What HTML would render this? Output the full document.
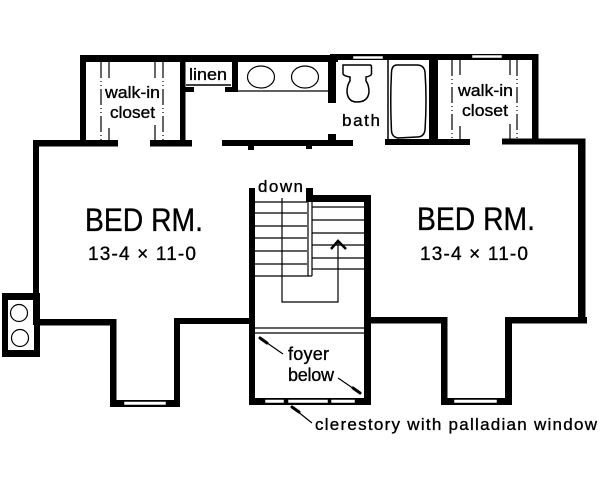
<!DOCTYPE html>
<html>
<head>
<meta charset="utf-8">
<style>
html,body{margin:0;padding:0;background:#fff;}
svg{display:block;}
text{font-family:"Liberation Sans",sans-serif;fill:#000;stroke:#000;stroke-width:.35px;}
</style>
</head>
<body>
<svg width="600" height="487" viewBox="0 0 600 487" xmlns="http://www.w3.org/2000/svg">
<rect width="600" height="487" fill="#fff"/>
<g fill="#000">
<rect x="80" y="55" width="258" height="7"/>
<rect x="330" y="54" width="208" height="6"/>
<rect x="80" y="55" width="6" height="88"/>
<rect x="532" y="54" width="6.500" height="88"/>
<rect x="33" y="140" width="85" height="6.500"/>
<rect x="150" y="140" width="42" height="6.500"/>
<rect x="222" y="140" width="131" height="6"/>
<rect x="385" y="139" width="85" height="6"/>
<rect x="502" y="138.500" width="83.500" height="6"/>
<rect x="180" y="60" width="5.500" height="82"/>
<rect x="232" y="60" width="6" height="32"/>
<rect x="185" y="87" width="9" height="5"/>
<rect x="225" y="87" width="9" height="5"/>
<rect x="328" y="58" width="8" height="45"/>
<rect x="429" y="58" width="9" height="82"/>
<rect x="248" y="145" width="6" height="5"/>
<rect x="328" y="134" width="8" height="7"/>
<rect x="306" y="144" width="6" height="5"/>
<rect x="33" y="140" width="6" height="185"/>
<path fill-rule="evenodd" d="M2 293H40V357H2Z M8 300V350H34V300Z"/>
<rect x="39" y="319" width="77" height="6.500"/>
<rect x="110" y="319" width="6.500" height="88"/>
<rect x="110" y="400" width="70" height="7"/>
<rect x="174" y="318" width="6" height="89"/>
<rect x="174" y="318" width="76" height="6"/>
<rect x="249" y="188" width="6" height="217"/>
<rect x="364" y="195" width="7" height="210"/>
<rect x="306" y="188" width="7" height="14"/>
<rect x="307" y="195" width="64" height="7"/>
<rect x="249" y="398" width="122" height="7"/>
<rect x="371" y="317" width="76" height="6.500"/>
<rect x="441" y="317" width="6.500" height="88"/>
<rect x="441" y="398" width="71" height="7"/>
<rect x="505" y="317" width="7" height="88"/>
<rect x="505" y="317" width="82" height="6.500"/>
<rect x="578" y="138.500" width="7.500" height="184.500"/>
</g>
<g fill="#fff" stroke="#000" stroke-width=".5">
<rect x="353" y="56" width="30" height="3"/>
<rect x="472" y="55" width="30" height="3"/>
<rect x="124" y="401.500" width="42" height="3.500"/>
<rect x="265" y="399.500" width="19" height="3.500"/>
<rect x="288" y="399.500" width="40" height="3.500"/>
<rect x="331" y="399.500" width="24" height="3.500"/>
<rect x="454" y="399.500" width="43" height="3.500"/>
</g>
<g fill="none" stroke="#000" stroke-width="1.200">
<circle cx="19" cy="313" r="8.500"/>
<circle cx="20" cy="338" r="8.500"/>
<path d="M186 85H231" stroke-width="1.500"/>
<path d="M238 91H328"/>
<ellipse cx="261" cy="77" rx="13.500" ry="11"/>
<ellipse cx="305" cy="77" rx="13.500" ry="11"/>
<path d="M343 65H370Q371.500 65 371.500 67V74Q371 76 366 77V81Q369 85 369 92Q368 102 357 102Q348 102 347 92Q347 85 350 81V77Q344 76 343 74Z" stroke-width="1.500"/>
<path d="M388 60V139" stroke-width="1.500"/>
<path d="M397 65H417Q424 65 425 72Q427 100 425 130Q424 137 417 137L398 138Q392 137 391.500 131Q390 100 391.500 72Q392 65 397 65Z" stroke-width="1.500"/>
<path d="M109 62V78M109 128V140M155 62V78M155 125V140"/>
<path d="M101 62V140M163 62V140" stroke-dasharray="16 3 1 3 1 3"/>
<path d="M460 60V75M460 126V139M510 60V75M510 124V139"/>
<path d="M452 60V139M517 60V139" stroke-dasharray="16 3 1 3 1 3"/>
<path d="M255 202H307M255 213H307M255 226H307M255 238H307M255 251H307M255 264H307M255 276H312"/>
<path d="M312 207H365M312 220H365M312 233H365M312 245H365M312 258H365M312 269H365"/>
<path d="M308 200V276M312 202V276"/>
<path d="M282 198V302H338V240"/>
<path d="M331 249L338 241L346 249" stroke-width="2.500"/>
<path d="M255 328H364M255 333H364"/>
<path d="M260 338L283 354M338 378L360 393M292 407L312 423"/>
</g>
<g stroke="#000" stroke-width="3" stroke-linecap="round">
<path d="M260 338L267 343M353 388L360 393M292 407L299 412"/>
</g>
<text x="85" y="231" font-size="32" textLength="118" lengthAdjust="spacingAndGlyphs">BED RM.</text>
<text x="417" y="230" font-size="32" textLength="118" lengthAdjust="spacingAndGlyphs">BED RM.</text>
<text x="88" y="260" font-size="19" textLength="108" lengthAdjust="spacing">13-4 × 11-0</text>
<text x="420" y="260" font-size="19" textLength="108" lengthAdjust="spacing">13-4 × 11-0</text>
<text x="105" y="98" font-size="17" textLength="55" lengthAdjust="spacingAndGlyphs">walk-in</text>
<text x="110" y="118" font-size="17" textLength="45" lengthAdjust="spacingAndGlyphs">closet</text>
<text x="458" y="96" font-size="17" textLength="55" lengthAdjust="spacingAndGlyphs">walk-in</text>
<text x="462" y="116" font-size="17" textLength="46" lengthAdjust="spacingAndGlyphs">closet</text>
<text x="189" y="80" font-size="17" textLength="38" lengthAdjust="spacingAndGlyphs">linen</text>
<text x="342" y="126" font-size="17" textLength="38" lengthAdjust="spacing">bath</text>
<text x="258" y="192" font-size="17" textLength="45" lengthAdjust="spacing">down</text>
<text x="288" y="360" font-size="18" textLength="41" lengthAdjust="spacing">foyer</text>
<text x="288" y="381" font-size="18" textLength="46" lengthAdjust="spacing">below</text>
<text x="315" y="430" font-size="17" textLength="282" lengthAdjust="spacing">clerestory with palladian window</text>
</svg>
</body>
</html>
